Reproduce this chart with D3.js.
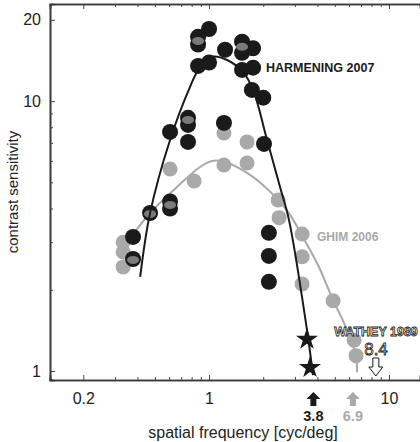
<!DOCTYPE html>
<html>
<head>
<meta charset="utf-8">
<script src="https://cdn.jsdelivr.net/npm/d3@7"></script>
<style>
  body { margin: 0; background: #fff; }
  svg { display: block; font-family: "Liberation Sans", Arial, sans-serif; }
</style>
</head>
<body>
<svg id="chart" width="420" height="442"></svg>
<script>
// valores (frecuencia en cyc/deg, sensibilidad al contraste)

const harmFreq = [0.378, 0.378, 0.47, 0.607, 0.607, 0.607, 0.764, 0.764, 0.764, 0.869, 0.869, 0.869,
  1.0, 1.0, 1.227, 1.525, 1.525, 1.525, 1.756, 1.756, 1.73, 2.0, 1.21, 2.02, 2.15, 2.15, 2.15];
const harmSens = [3.14, 2.6, 3.85, 7.69, 4.25, 4.0, 8.67, 8.16, 7.06, 17.3, 16.2, 13.5,
  18.5, 13.9, 15.5, 16.6, 15.1, 13.05, 15.7, 13.3, 11.0, 10.3, 8.3, 6.94, 3.25, 2.67, 2.14];

const ghimFreq = [0.333, 0.333, 0.333, 0.607, 0.826, 1.21, 1.21, 1.626, 1.626, 2.42, 2.45,
  3.29, 3.29, 3.29, 4.89, 6.4, 6.56];
const ghimSens = [3.0, 2.76, 2.43, 5.6, 5.06, 7.62, 5.8, 7.06, 5.9, 4.3, 3.7,
  3.22, 2.65, 2.10, 1.82, 1.30, 1.14];

// puntos grises que asoman por debajo de los negros
const mixFreq = [0.378, 0.47, 0.607, 0.764, 0.869, 1.525];
const mixSens = [2.58, 3.82, 4.12, 8.52, 16.7, 15.9];

const starFreq = [3.5, 3.64];
const starSens = [1.31, 1.03];

const harmCurveFreq = [0.414, 0.47, 0.607, 0.784, 0.891, 1.04, 1.26, 1.545, 1.756, 2.1, 2.48, 2.78, 3.5, 3.78];
const harmCurveSens = [2.23, 3.85, 7.18, 11.3, 13.4, 14.6, 14.2, 12.8, 11.0, 7.18, 4.81, 3.63, 1.42, 0.966];

const ghimCurveFreq = [0.346, 0.47, 0.664, 0.891, 1.04, 1.23, 1.626, 1.995, 2.42, 2.82, 3.29, 4.03, 4.89, 5.69, 6.56, 6.64];
const ghimCurveSens = [2.96, 3.85, 4.81, 5.7, 6.0, 5.95, 5.42, 4.89, 4.3, 3.79, 3.17, 2.47, 1.83, 1.48, 1.13, 0.99];

const xMajor = [0.2, 1, 10];
const xMinor = [0.3, 0.4, 0.5, 0.6, 0.7, 0.8, 0.9, 2, 3, 4, 5, 6, 7, 8, 9];
const yMajor = [1, 10, 20];
const yMinor = [2, 3, 4, 5, 6, 7, 8, 9];

const cutoffPos = [3.8, 6.3];
const cutoffText = ["3.8", "6.9"];
const watheyPos = 8.45;

const svg = d3.select("#chart");

const x = d3.scaleLog().domain([0.1306, 14.87]).range([50, 420]);
const y = d3.scaleLog().domain([0.926, 22.9]).range([380, 4]);

const BLACK = "#1a1a1a";
const GRAY = "#a9a9a9";

// ejes
const axisBottom = d3.axisBottom(x).tickValues(xMajor).tickSize(-5).tickPadding(13).tickFormat(d3.format("~g"));
const axisBottomMinor = d3.axisBottom(x).tickValues(xMinor).tickSize(-3).tickFormat("");
const axisTop = d3.axisTop(x).tickValues(xMajor).tickSize(-5).tickFormat("");
const axisTopMinor = d3.axisTop(x).tickValues(xMinor).tickSize(-3).tickFormat("");
const axisLeft = d3.axisLeft(y).tickValues(yMajor).tickSize(-5).tickPadding(9).tickFormat(d3.format("~g"));
const axisLeftMinor = d3.axisLeft(y).tickValues(yMinor).tickSize(-3).tickFormat("");

const g = svg.append("g");
g.append("g").attr("transform", "translate(0,380)").call(axisBottom);
g.append("g").attr("transform", "translate(0,380)").call(axisBottomMinor);
g.append("g").attr("transform", "translate(0,4)").call(axisTop);
g.append("g").attr("transform", "translate(0,4)").call(axisTopMinor);
g.append("g").attr("transform", "translate(50,0)").call(axisLeft);
g.append("g").attr("transform", "translate(50,0)").call(axisLeftMinor);

g.selectAll(".domain").attr("stroke", "#3a3a3a").attr("stroke-width", 1.6);
g.selectAll(".tick line").attr("stroke", "#444");
g.selectAll(".tick text").attr("font-size", 16).attr("fill", "#222")
  .attr("font-family", "'Liberation Sans', Arial, sans-serif");

// curvas
const line = d3.line().x(d => x(d[0])).y(d => y(d[1])).curve(d3.curveCatmullRom);

svg.append("path")
  .datum(d3.zip(ghimCurveFreq, ghimCurveSens))
  .attr("d", line)
  .attr("fill", "none").attr("stroke", GRAY).attr("stroke-width", 2);

// puntos grises
svg.selectAll(".ghim").data(d3.zip(ghimFreq, ghimSens)).enter()
  .append("circle")
  .attr("cx", d => x(d[0])).attr("cy", d => y(d[1])).attr("r", 7.5)
  .attr("fill", GRAY);

// puntos negros
svg.selectAll(".harm").data(d3.zip(harmFreq, harmSens)).enter()
  .append("circle")
  .attr("cx", d => x(d[0])).attr("cy", d => y(d[1])).attr("r", 8)
  .attr("fill", BLACK);

svg.selectAll(".mix").data(d3.zip(mixFreq, mixSens)).enter()
  .append("ellipse")
  .attr("cx", d => x(d[0])).attr("cy", d => y(d[1])).attr("rx", 6).attr("ry", 4)
  .attr("fill", "#7a7a7a");

svg.append("path")
  .datum(d3.zip(harmCurveFreq, harmCurveSens))
  .attr("d", line)
  .attr("fill", "none").attr("stroke", BLACK).attr("stroke-width", 2);

// estrellas
svg.selectAll(".star").data(d3.zip(starFreq, starSens)).enter()
  .append("path")
  .attr("d", d3.symbol(d3.symbolStar, 150))
  .attr("transform", d => `translate(${x(d[0])},${y(d[1])})`)
  .attr("fill", BLACK);

// etiquetas
svg.append("text").attr("x", 266).attr("y", 72).text("HARMENING 2007")
  .attr("font-size", 12.5).attr("font-weight", "bold").attr("fill", BLACK);
svg.append("text").attr("x", 317).attr("y", 241).text("GHIM 2006")
  .attr("font-size", 12).attr("font-weight", "bold").attr("fill", GRAY);

svg.append("text").attr("x", 376).attr("y", 336).attr("text-anchor", "middle").text("WATHEY 1989")
  .attr("font-size", 12.5).attr("font-weight", "bold").attr("fill", "#fff")
  .attr("stroke", BLACK).attr("stroke-width", 0.8);
svg.append("text").attr("x", 376).attr("y", 355).attr("text-anchor", "middle").text("8.4")
  .attr("font-size", 17).attr("fill", "#fff")
  .attr("stroke", BLACK).attr("stroke-width", 0.8);

// flecha hueca (Wathey)
const downArrow = "M-3,0 L3,0 L3,9 L7,9 L0,18 L-7,9 L-3,9 Z";
svg.append("path").attr("d", downArrow)
  .attr("transform", `translate(${x(watheyPos)},358)`)
  .attr("fill", "#fff").attr("stroke", BLACK).attr("stroke-width", 1);

// flechas de corte bajo el eje
const upArrow = "M-3,14 L3,14 L3,7 L7,7 L0,0 L-7,7 L-3,7 Z";
const cutColors = [BLACK, GRAY];
svg.selectAll(".cut").data(cutoffPos).enter()
  .append("path").attr("d", upArrow)
  .attr("transform", d => `translate(${x(d)},392)`)
  .attr("fill", (d, i) => cutColors[i]);
svg.selectAll(".cutText").data(cutoffPos).enter()
  .append("text")
  .attr("x", d => x(d)).attr("y", 421).attr("text-anchor", "middle")
  .text((d, i) => cutoffText[i])
  .attr("font-size", 14.5).attr("font-weight", "bold").attr("fill", (d, i) => cutColors[i]);

// titulos de ejes
svg.append("text").attr("x", 243).attr("y", 438).attr("text-anchor", "middle")
  .text("spatial frequency [cyc/deg]").attr("font-size", 16).attr("fill", "#222");
svg.append("text").attr("transform", "translate(18,192) rotate(-90)").attr("text-anchor", "middle")
  .text("contrast sensitivity").attr("font-size", 15).attr("fill", "#222");
</script>
</body>
</html>
